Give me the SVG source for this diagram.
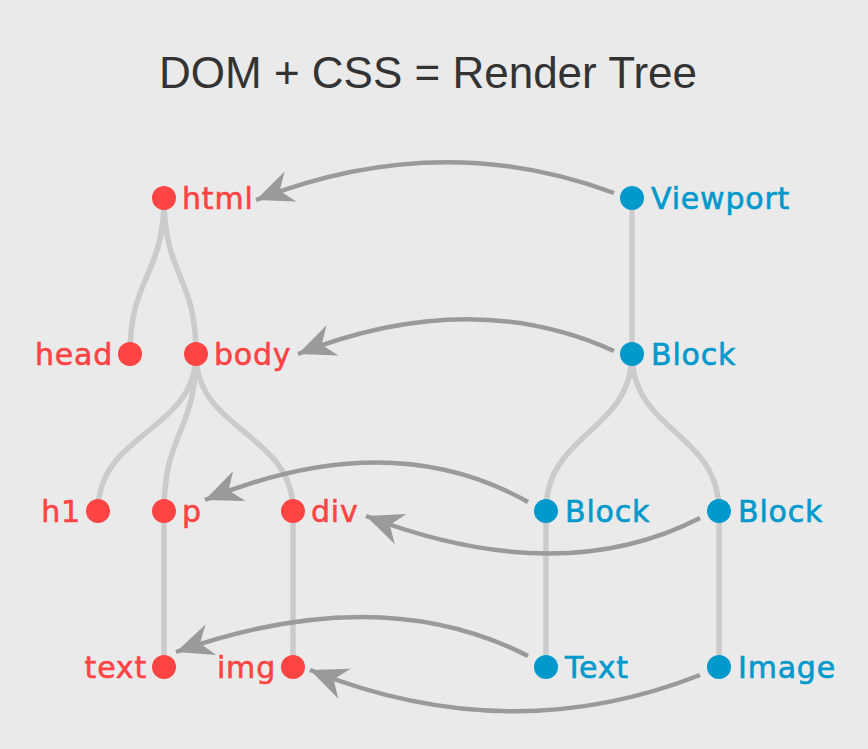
<svg xmlns="http://www.w3.org/2000/svg" width="868" height="749" viewBox="0 0 868 749">
<style>
.edge{fill:none;stroke:#cbcbcb;stroke-width:5.5}
.map{fill:none;stroke:#9a9a9a;stroke-width:4.5;marker-end:url(#ah)}
.dom circle{fill:#ff4444}
.dom text{fill:#ff4444;stroke:#ff4444}
.ren circle{fill:#0099cc}
.ren text{fill:#0099cc;stroke:#0099cc}
text{font-family:"DejaVu Sans",sans-serif;font-size:30px;letter-spacing:0.8px;stroke-width:0.6}
.title{font-family:"Liberation Sans",Arial,sans-serif;font-size:44px;fill:#333;text-anchor:middle;stroke:none;letter-spacing:0}
.l{text-anchor:end}
</style>
<defs>
<marker id="ah" markerUnits="userSpaceOnUse" markerWidth="44" markerHeight="44" viewBox="-34 -18 38 36" refX="0" refY="0" orient="auto">
<path d="M0,0 L-32,-14 L-22,0 L-32,14 Z" fill="#9a9a9a"/>
</marker>
</defs>
<rect width="868" height="749" fill="#eaeaea"/>
<text class="title" x="428" y="88">DOM + CSS = Render Tree</text>
<g id="tree-edges">
<path class="edge" d="M164,198 C164,276 130,276 130,354"/>
<path class="edge" d="M164,198 C164,276 196,276 196,354"/>
<path class="edge" d="M196,354 C196,432 98,432 98,511"/>
<path class="edge" d="M196,354 C196,432 164,432 164,511"/>
<path class="edge" d="M196,354 C196,432 293,432 293,511"/>
<path class="edge" d="M164,511 L164,667"/>
<path class="edge" d="M293,511 L293,667"/>
<path class="edge" d="M632,198 L632,354"/>
<path class="edge" d="M632,354 C632,432 546,432 546,511"/>
<path class="edge" d="M632,354 C632,432 719,432 719,511"/>
<path class="edge" d="M546,511 L546,667"/>
<path class="edge" d="M719,511 L719,667"/>
</g>
<g id="connectors">
<path class="map" d="M614,193 Q440,128 256,200"/>
<path class="map" d="M614,351 Q470,286 298,354"/>
<path class="map" d="M528,502 Q390,424 205,500"/>
<path class="map" d="M700,518 Q560,590 366,516"/>
<path class="map" d="M528,656 Q380,580 176,652"/>
<path class="map" d="M700,675 Q510,750 310,670"/>
</g>
<g id="html" class="dom"><circle cx="164" cy="198" r="12"/><text x="182" y="209">html</text></g>
<g id="head" class="dom"><circle cx="130" cy="354" r="12"/><text class="l" x="113" y="365">head</text></g>
<g id="body" class="dom"><circle cx="196" cy="354" r="12"/><text x="214" y="365">body</text></g>
<g id="h1" class="dom"><circle cx="98" cy="511" r="12"/><text class="l" x="81" y="522">h1</text></g>
<g id="p" class="dom"><circle cx="164" cy="511" r="12"/><text x="182" y="522">p</text></g>
<g id="div" class="dom"><circle cx="293" cy="511" r="12"/><text x="311" y="522">div</text></g>
<g id="text" class="dom"><circle cx="164" cy="667" r="12"/><text class="l" x="147" y="678">text</text></g>
<g id="img" class="dom"><circle cx="293" cy="667" r="12"/><text class="l" x="276" y="678">img</text></g>
<g id="viewport" class="ren"><circle cx="632" cy="198" r="12"/><text x="651" y="209">Viewport</text></g>
<g id="block1" class="ren"><circle cx="632" cy="354" r="12"/><text x="651" y="365">Block</text></g>
<g id="block2" class="ren"><circle cx="546" cy="511" r="12"/><text x="565" y="522">Block</text></g>
<g id="block3" class="ren"><circle cx="719" cy="511" r="12"/><text x="738" y="522">Block</text></g>
<g id="textr" class="ren"><circle cx="546" cy="667" r="12"/><text x="565" y="678">Text</text></g>
<g id="image" class="ren"><circle cx="719" cy="667" r="12"/><text x="738" y="678">Image</text></g>
</svg>
